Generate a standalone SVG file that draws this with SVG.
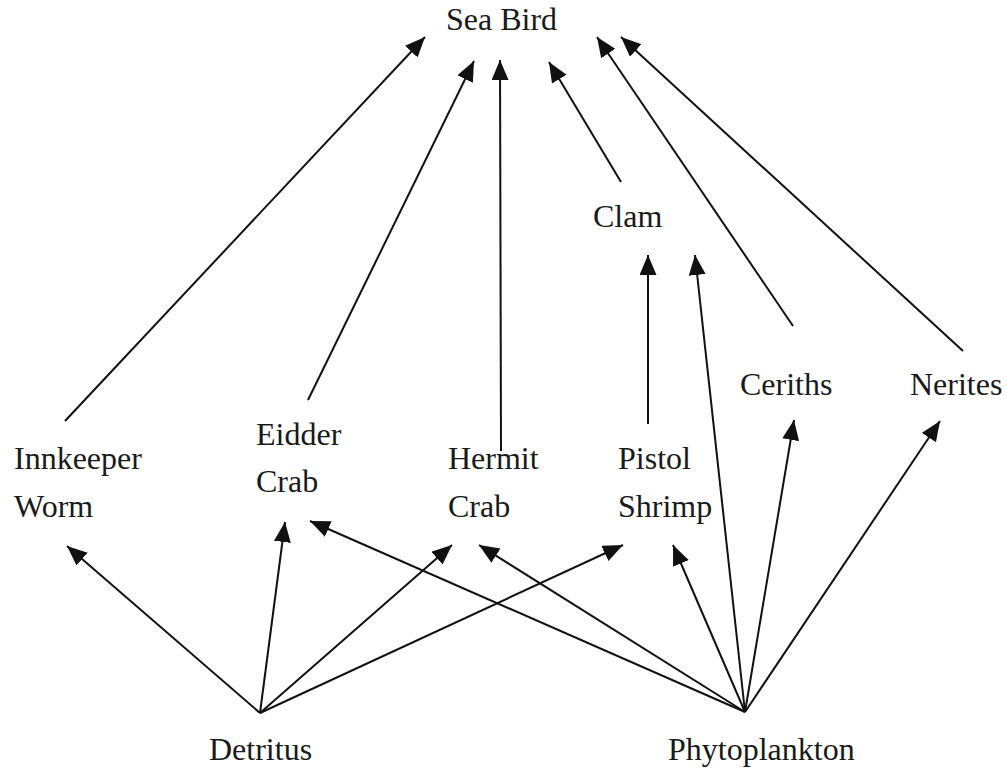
<svg xmlns="http://www.w3.org/2000/svg" width="1006" height="768" viewBox="0 0 1006 768">
<style>
text{font-family:"Liberation Serif","Times New Roman",serif;font-size:32px;fill:#1a1a1a}
.c line{stroke:#111;stroke-width:2;marker-end:url(#ah)}
</style>
<defs>
<marker id="ah" markerUnits="userSpaceOnUse" markerWidth="22" markerHeight="18" refX="20" refY="8.5" orient="auto">
<path d="M0,0 L20,8.5 L0,17 Z" fill="#111"/>
</marker>
</defs>
<rect width="1006" height="768" fill="#fff"/>
<g class="c" id="connectors">
<line x1="65" y1="421" x2="425" y2="37"/>
<line x1="308" y1="400" x2="474" y2="61"/>
<line x1="501" y1="451" x2="500" y2="60"/>
<line x1="621" y1="182" x2="549" y2="62"/>
<line x1="793" y1="326" x2="597" y2="37"/>
<line x1="963" y1="351" x2="621" y2="37"/>
<line x1="648" y1="424" x2="648" y2="255"/>
<line x1="745" y1="712" x2="695" y2="255"/>
<line x1="745" y1="712" x2="794" y2="420"/>
<line x1="745" y1="712" x2="940" y2="421"/>
<line x1="745" y1="712" x2="673" y2="545"/>
<line x1="745" y1="712" x2="479" y2="545"/>
<line x1="745" y1="712" x2="310" y2="521"/>
<line x1="260" y1="713" x2="67" y2="546"/>
<line x1="260" y1="713" x2="285" y2="522"/>
<line x1="260" y1="713" x2="452" y2="545"/>
<line x1="260" y1="713" x2="623" y2="545"/>
</g>
<g id="seabird"><text x="446" y="30">Sea Bird</text></g>
<g id="clam"><text x="593" y="227">Clam</text></g>
<g id="ceriths"><text x="740" y="395">Ceriths</text></g>
<g id="nerites"><text x="910" y="395">Nerites</text></g>
<g id="eidder"><text x="256" y="445">Eidder</text><text x="256" y="492">Crab</text></g>
<g id="innkeeper"><text x="14" y="469">Innkeeper</text><text x="14" y="517">Worm</text></g>
<g id="hermit"><text x="448" y="469">Hermit</text><text x="448" y="517">Crab</text></g>
<g id="pistol"><text x="618" y="469">Pistol</text><text x="618" y="517">Shrimp</text></g>
<g id="detritus"><text x="209" y="760">Detritus</text></g>
<g id="phyto"><text x="668" y="760">Phytoplankton</text></g>
</svg>
